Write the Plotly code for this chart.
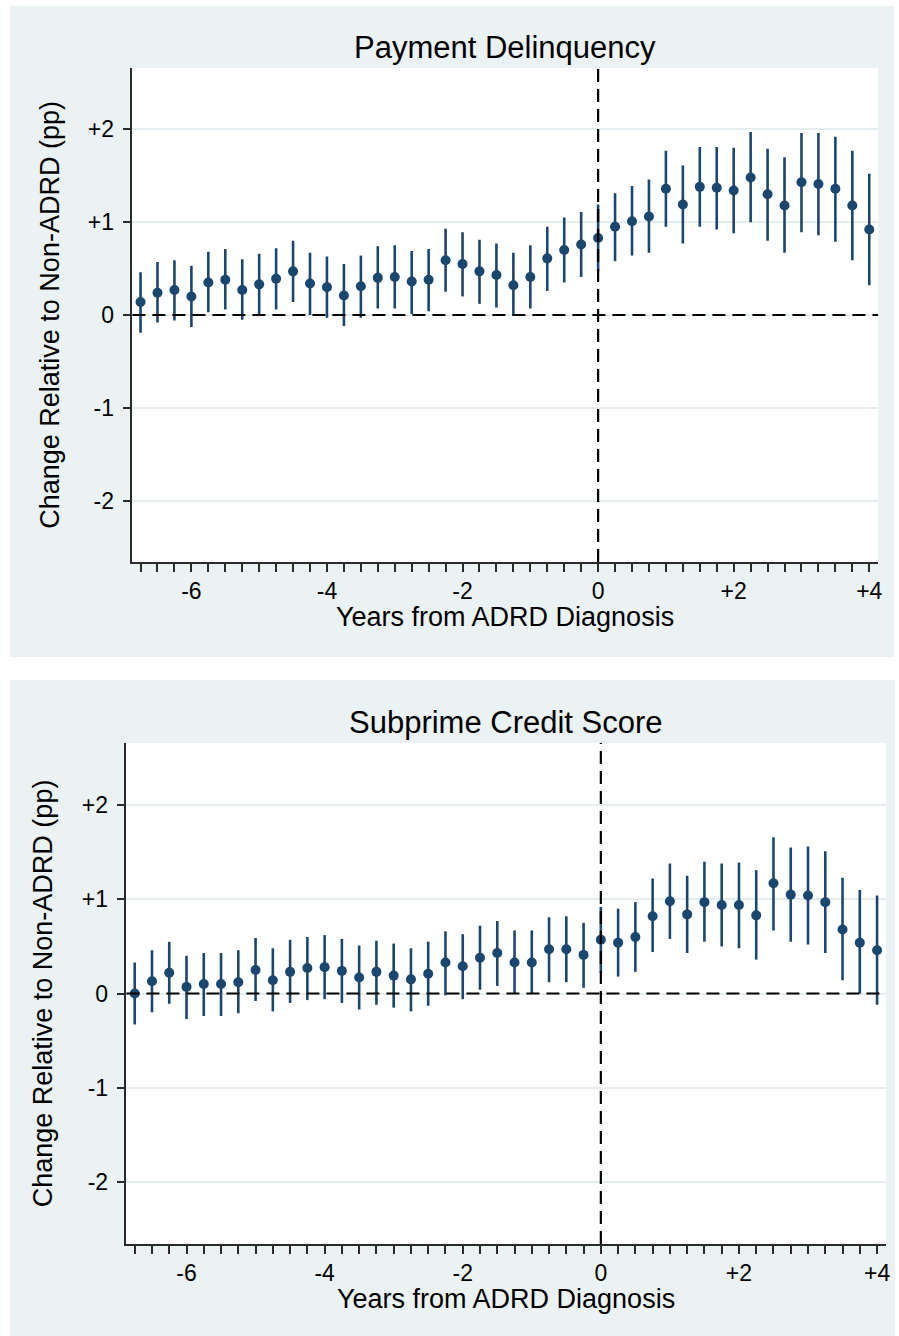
import plotly.graph_objects as go

# ---------------- data ----------------
event_time = [-6.75, -6.5, -6.25, -6.0, -5.75, -5.5, -5.25, -5.0, -4.75, -4.5, -4.25,
              -4.0, -3.75, -3.5, -3.25, -3.0, -2.75, -2.5, -2.25, -2.0, -1.75, -1.5,
              -1.25, -1.0, -0.75, -0.5, -0.25, 0.0, 0.25, 0.5, 0.75, 1.0, 1.25, 1.5,
              1.75, 2.0, 2.25, 2.5, 2.75, 3.0, 3.25, 3.5, 3.75, 4.0]

delinq_est = [0.14, 0.24, 0.27, 0.20, 0.35, 0.38, 0.27, 0.33, 0.39, 0.47, 0.34, 0.30, 0.21,
              0.31, 0.40, 0.41, 0.36, 0.38, 0.59, 0.55, 0.47, 0.43, 0.32, 0.41, 0.61, 0.70,
              0.76, 0.83, 0.95, 1.01, 1.06, 1.36, 1.19, 1.38, 1.37, 1.34, 1.48, 1.30, 1.18,
              1.43, 1.41, 1.36, 1.18, 0.92]
delinq_hi = [0.46, 0.57, 0.59, 0.53, 0.68, 0.71, 0.60, 0.66, 0.72, 0.80, 0.67, 0.63, 0.55,
             0.64, 0.74, 0.75, 0.69, 0.71, 0.93, 0.89, 0.81, 0.77, 0.67, 0.75, 0.95, 1.05,
             1.11, 1.19, 1.31, 1.39, 1.46, 1.77, 1.61, 1.81, 1.81, 1.80, 1.97, 1.79, 1.70,
             1.96, 1.96, 1.92, 1.77, 1.52]
delinq_lo = [-0.19, -0.08, -0.06, -0.13, 0.03, 0.06, -0.05, 0.00, 0.06, 0.14, 0.00, -0.03,
             -0.12, -0.03, 0.07, 0.07, 0.01, 0.04, 0.25, 0.20, 0.12, 0.08, -0.01, 0.07, 0.26,
             0.35, 0.41, 0.47, 0.58, 0.64, 0.67, 0.95, 0.77, 0.95, 0.92, 0.88, 1.00, 0.80,
             0.67, 0.89, 0.86, 0.79, 0.59, 0.32]

subprime_est = [0.00, 0.13, 0.22, 0.07, 0.10, 0.10, 0.12, 0.25, 0.14, 0.23, 0.27, 0.28, 0.24,
                0.17, 0.23, 0.19, 0.15, 0.21, 0.33, 0.29, 0.38, 0.43, 0.33, 0.33, 0.47, 0.47,
                0.41, 0.57, 0.54, 0.60, 0.82, 0.98, 0.84, 0.97, 0.94, 0.94, 0.83, 1.17, 1.05,
                1.04, 0.97, 0.68, 0.54, 0.46]
subprime_hi = [0.33, 0.46, 0.55, 0.40, 0.43, 0.43, 0.46, 0.59, 0.48, 0.57, 0.60, 0.62, 0.58,
               0.51, 0.56, 0.53, 0.48, 0.55, 0.66, 0.63, 0.72, 0.77, 0.67, 0.67, 0.81, 0.82,
               0.75, 0.92, 0.90, 0.97, 1.22, 1.38, 1.25, 1.40, 1.38, 1.39, 1.31, 1.66, 1.55,
               1.56, 1.51, 1.23, 1.10, 1.04]
subprime_lo = [-0.33, -0.20, -0.11, -0.27, -0.24, -0.24, -0.21, -0.08, -0.19, -0.10, -0.07,
               -0.06, -0.10, -0.17, -0.12, -0.15, -0.19, -0.13, -0.02, -0.06, 0.04, 0.08,
               0.00, 0.00, 0.12, 0.12, 0.06, 0.22, 0.18, 0.23, 0.44, 0.58, 0.43, 0.55, 0.50,
               0.48, 0.36, 0.67, 0.55, 0.52, 0.43, 0.14, 0.00, -0.12]

panel_titles = ["Payment Delinquency", "Subprime Credit Score"]
x_title = "Years from ADRD Diagnosis"
y_title = "Change Relative to Non-ADRD (pp)"
x_tickvals = [-6, -4, -2, 0, 2, 4]
x_ticktext = ["-6", "-4", "-2", "0", "+2", "+4"]
y_tickvals = [-2, -1, 0, 1, 2]
y_ticktext = ["-2", "-1", "0", "+1", "+2"]

# ---------------- style ----------------
W, H = 899, 1336
NAVY = "#1a476f"
PANEL_BG = "#eaf2f3"
GRID = "#e4edef"
AXIS = "#2b2b2b"
FONT = "Liberation Sans, Arial, sans-serif"

def px_x(p):
    return p / W

def px_y(p):
    return 1 - p / H

# plot areas in pixels (left, right, top, bottom)
areas = [(133, 882, 68, 562), (127, 890, 743, 1244)]
panels = [(10, 898, 6, 657), (10, 899, 680, 1336)]

fig = go.Figure()

series = [(delinq_est, delinq_lo, delinq_hi), (subprime_est, subprime_lo, subprime_hi)]
bg_shapes = []
ref_shapes = []
annotations = []

for i, (est, lo, hi) in enumerate(series):
    sfx = "" if i == 0 else str(i + 1)
    fig.add_trace(go.Scatter(
        x=event_time, y=est, mode="markers",
        marker=dict(color=NAVY, size=10),
        error_y=dict(type="data", symmetric=False,
                     array=[h - e for h, e in zip(hi, est)],
                     arrayminus=[e - l for e, l in zip(est, lo)],
                     color=NAVY, thickness=2.6, width=0),
        xaxis="x" + sfx, yaxis="y" + sfx, showlegend=False,
    ))
    l, r, t, b = areas[i]
    pl, pr, pt, pb = panels[i]
    # panel background and white plot region
    bg_shapes.append(dict(type="rect", xref="paper", yref="paper", layer="below",
                          x0=px_x(pl), x1=px_x(pr), y0=px_y(pb), y1=px_y(pt),
                          fillcolor=PANEL_BG, line=dict(width=0)))
    bg_shapes.append(dict(type="rect", xref="paper", yref="paper", layer="below",
                          x0=px_x(l), x1=px_x(r), y0=px_y(b), y1=px_y(t),
                          fillcolor="white", line=dict(width=0)))
    # reference lines
    ref_shapes.append(dict(type="line", xref="x" + sfx, yref="y" + sfx + " domain",
                           x0=0, x1=0, y0=0, y1=1,
                           line=dict(color="black", width=2.2, dash="13px,7px")))
    ref_shapes.append(dict(type="line", xref="x" + sfx + " domain", yref="y" + sfx,
                           x0=0, x1=1, y0=0, y1=0,
                           line=dict(color="black", width=2.2, dash="13px,7px")))
    # titles
    annotations.append(dict(text=panel_titles[i], xref="paper", yref="paper",
                            x=px_x((l + r) / 2), y=px_y(pt + 42), showarrow=False,
                            xanchor="center", yanchor="middle",
                            font=dict(family=FONT, size=31, color="black")))
    annotations.append(dict(text=x_title, xref="paper", yref="paper",
                            x=px_x((l + r) / 2), y=px_y(b + 55), showarrow=False,
                            xanchor="center", yanchor="middle",
                            font=dict(family=FONT, size=27, color="black")))
    annotations.append(dict(text=y_title, xref="paper", yref="paper", textangle=-90,
                            x=px_x(l - 83), y=px_y((t + b) / 2), showarrow=False,
                            xanchor="center", yanchor="middle",
                            font=dict(family=FONT, size=27, color="black")))

    xaxis = dict(domain=[px_x(l), px_x(r)], range=[-6.87, 4.13],
                 anchor="y" + sfx, tickvals=x_tickvals, ticktext=x_ticktext,
                 ticks="outside", ticklen=8, tickwidth=1.5, tickcolor=AXIS,
                 minor=dict(dtick=0.25, tick0=0, ticks="outside", ticklen=8,
                            tickwidth=1.5, tickcolor=AXIS, showgrid=False),
                 showline=True, linecolor=AXIS, linewidth=1.5,
                 showgrid=False, zeroline=False,
                 tickfont=dict(family=FONT, size=23, color="black"),
                 fixedrange=True)
    yaxis = dict(domain=[px_y(b), px_y(t)], range=[-2.66, 2.66],
                 anchor="x" + sfx, tickvals=y_tickvals, ticktext=y_ticktext,
                 ticks="outside", ticklen=8, tickwidth=1.5, tickcolor=AXIS,
                 showline=True, linecolor=AXIS, linewidth=1.5,
                 showgrid=True, gridcolor=GRID, gridwidth=1.5, zeroline=False,
                 tickfont=dict(family=FONT, size=23, color="black"),
                 ticklabelstandoff=4,
                 fixedrange=True)
    fig.layout["xaxis" + sfx] = xaxis
    fig.layout["yaxis" + sfx] = yaxis

fig.update_layout(
    width=W, height=H,
    margin=dict(l=0, r=0, t=0, b=0),
    paper_bgcolor="white",
    plot_bgcolor="rgba(0,0,0,0)",
    shapes=bg_shapes + ref_shapes,
    annotations=annotations,
    showlegend=False,
)

fig.write_html("out.html", config={"displayModeBar": False})
